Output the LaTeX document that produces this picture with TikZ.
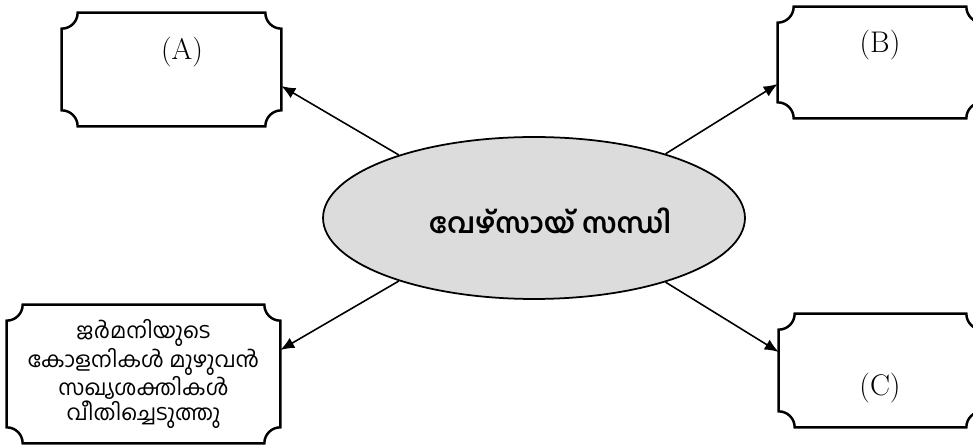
\documentclass[tikz,border=0pt]{standalone}
\usepackage{fontspec}
\usepackage{tikz}
\usetikzlibrary{shapes.geometric,arrows.meta,positioning}
\newfontfamily\mlfont[Script=Malayalam]{Hind Kochi}
\definecolor{ellgray}{RGB}{220,220,220}
\newcommand{\notchr}{0.32cm}
\tikzset{
  ticket/.style={inner sep=0pt, align=center},
  frame/.style={draw=black, line width=1.4pt},
  tag/.style={font=\fontsize{17}{20}\selectfont},
  conn/.style={line width=0.9pt, -{Latex[length=2.8mm,width=2.3mm]}}
}

\begin{document}
\begin{tikzpicture}[x=0.02cm, y=-0.02cm]
  \useasboundingbox (0,0) rectangle (973,448);

  % Define nodes
  \node[ellipse, draw, line width=1pt, fill=ellgray, minimum width=8.44cm,
        minimum height=3.24cm, inner sep=0pt]      (ell) at (534,218) {};
  \node[font=\mlfont\bfseries\fontsize{16}{19}\selectfont] (ttl) at (550,221) {വേഴ്സായ് സന്ധി};

  \node[ticket, minimum width=4.38cm, minimum height=2.26cm] (boxA) at (171.5,69.5) {};
  \node[ticket, minimum width=4.08cm, minimum height=2.22cm] (boxB) at (880,62.5) {};
  \node[ticket, minimum width=4.06cm, minimum height=2.26cm] (boxC) at (880.5,370.5) {};
  \node[ticket, minimum width=5.46cm, minimum height=2.76cm,
        font=\mlfont\fontsize{12.3}{14.2}\selectfont] (boxD) at (143.5,374)
        {ജർമനിയുടെ\\കോളനികൾ മുഴുവൻ\\സഖ്യശക്തികൾ\\വീതിച്ചെടുത്തു};

  \node[tag] (tagA) at (182,52) {(A)};
  \node[tag] (tagB) at (880,45) {(B)};
  \node[tag] (tagC) at (880,388) {(C)};

  % Box frames with cut-in corners
  \foreach \b in {boxA,boxB,boxC,boxD}
    \draw[frame] ([xshift=\notchr]\b.north west) -- ([xshift=-\notchr]\b.north east)
      arc (180:270:\notchr) -- ([yshift=\notchr]\b.south east)
      arc (90:180:\notchr) -- ([xshift=\notchr]\b.south west)
      arc (0:90:\notchr) -- ([yshift=-\notchr]\b.north west)
      arc (270:360:\notchr) -- cycle;

  % Connect the nodes
  \draw[conn] (ell.155) -- ([yshift=-0.33cm]boxA.east);
  \draw[conn] (ell.26)  -- ([yshift=-0.43cm]boxB.west);
  \draw[conn] (ell.334) -- ([yshift=0.37cm]boxC.west);
  \draw[conn] (ell.205) -- ([yshift=0.48cm]boxD.east);
\end{tikzpicture}
\end{document}
